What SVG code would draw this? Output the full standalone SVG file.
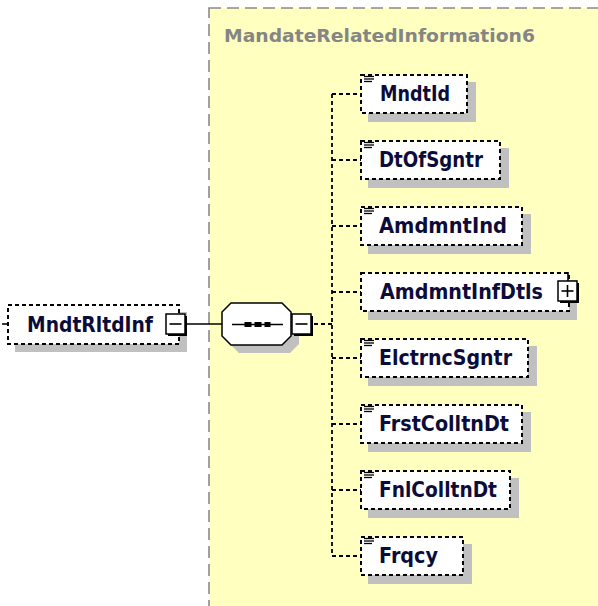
<svg xmlns="http://www.w3.org/2000/svg" width="598" height="606" viewBox="0 0 598 606">
<defs>
<style>
.bg{fill:#ffffff}
.cont{fill:#ffffc0;stroke:#8a8a8a;stroke-width:1.6;stroke-dasharray:12 6}
.title{font-family:"DejaVu Sans","Liberation Sans",sans-serif;font-weight:bold;font-size:18.5px;fill:#858585}
.box{fill:#ffffff;stroke:#000000;stroke-width:2;stroke-dasharray:4 3}
.shadow{fill:#c0c0c0}
.lbl{font-family:"DejaVu Sans","Liberation Sans",sans-serif;font-weight:bold;font-size:21px;fill:#0c0c3a}
.icon{stroke:#000000;stroke-width:1.3}
.conn{fill:none;stroke:#000000;stroke-width:1.8;stroke-dasharray:4 3}
.solid{fill:none;stroke:#000000;stroke-width:1.6}
.btn{fill:#ffffff;stroke:#000000;stroke-width:1.5}
.btnsh{fill:#000000}
</style>
</defs>
<rect class="bg" x="0" y="0" width="598" height="606"/>
<rect class="cont" x="209" y="8" width="420" height="620"/>
<text class="title" x="224" y="42" textLength="311" lengthAdjust="spacingAndGlyphs">MandateRelatedInformation6</text>

<g id="connectors">
<line class="solid" x1="2" y1="324" x2="7" y2="324"/>
<line class="solid" x1="177.5" y1="304" x2="177.5" y2="314"/>
<line class="solid" x1="187" y1="324" x2="222" y2="324"/>
<line class="conn" x1="314" y1="324" x2="332" y2="324"/>
<line class="conn" x1="332" y1="94" x2="332" y2="556"/>
<line class="conn" x1="332" y1="94" x2="361" y2="94"/>
<line class="conn" x1="332" y1="160" x2="361" y2="160"/>
<line class="conn" x1="332" y1="226" x2="361" y2="226"/>
<line class="conn" x1="332" y1="292" x2="361" y2="292"/>
<line class="conn" x1="332" y1="358" x2="361" y2="358"/>
<line class="conn" x1="332" y1="424" x2="361" y2="424"/>
<line class="conn" x1="332" y1="490" x2="361" y2="490"/>
<line class="conn" x1="332" y1="556" x2="361" y2="556"/>
</g>

<g id="MndtRltdInf">
<rect class="shadow" x="15" y="312" width="172" height="40"/>
<rect class="box" x="8" y="305" width="171" height="39"/>
<text class="lbl" x="27" y="332" textLength="126" lengthAdjust="spacingAndGlyphs">MndtRltdInf</text>
<rect class="btnsh" x="168" y="316" width="19" height="20"/>
<rect class="btn" x="166" y="314" width="19" height="20"/>
<line class="solid" x1="169.5" y1="324" x2="181.5" y2="324"/>
</g>

<g id="sequence">
<polygon class="shadow" points="239,311 290,311 299,320 299,344 290,353 239,353 230,344 230,320"/>
<polygon class="btn" points="231,303 282,303 291,312 291,336 282,345 231,345 222,336 222,312"/>
<line class="solid" x1="232" y1="324.5" x2="283" y2="324.5"/>
<rect x="244.5" y="322" width="7" height="5" fill="#000000"/>
<rect x="254.5" y="322" width="7" height="5" fill="#000000"/>
<rect x="264.5" y="322" width="6" height="5" fill="#000000"/>
<rect class="btnsh" x="294" y="316" width="19" height="20"/>
<rect class="btn" x="292" y="314" width="19" height="20"/>
<line class="solid" x1="295.5" y1="324" x2="307.5" y2="324"/>
</g>

<g id="MndtId">
<rect class="shadow" x="368" y="82" width="108" height="40"/>
<rect class="box" x="361" y="75" width="106" height="38"/>
<g class="icon"><line x1="364" y1="76.5" x2="374" y2="76.5"/><line x1="364" y1="79" x2="374" y2="79"/><line x1="364" y1="81.5" x2="372" y2="81.5"/></g>
<text class="lbl" x="380" y="101" textLength="70" lengthAdjust="spacingAndGlyphs">MndtId</text>
</g>

<g id="DtOfSgntr">
<rect class="shadow" x="368" y="148" width="141" height="40"/>
<rect class="box" x="361" y="141" width="139" height="38"/>
<g class="icon"><line x1="364" y1="142.5" x2="374" y2="142.5"/><line x1="364" y1="145" x2="374" y2="145"/><line x1="364" y1="147.5" x2="372" y2="147.5"/></g>
<text class="lbl" x="379" y="167" textLength="104" lengthAdjust="spacingAndGlyphs">DtOfSgntr</text>
</g>

<g id="AmdmntInd">
<rect class="shadow" x="368" y="214" width="163" height="40"/>
<rect class="box" x="361" y="207" width="161" height="38"/>
<g class="icon"><line x1="364" y1="208.5" x2="374" y2="208.5"/><line x1="364" y1="211" x2="374" y2="211"/><line x1="364" y1="213.5" x2="372" y2="213.5"/></g>
<text class="lbl" x="379" y="233" textLength="128" lengthAdjust="spacingAndGlyphs">AmdmntInd</text>
</g>

<g id="AmdmntInfDtls">
<rect class="shadow" x="368" y="280" width="209" height="40"/>
<rect class="box" x="361" y="273" width="208" height="38"/>
<text class="lbl" x="380" y="299" textLength="163" lengthAdjust="spacingAndGlyphs">AmdmntInfDtls</text>
<line class="solid" x1="568" y1="272" x2="568" y2="281"/>
<rect class="btnsh" x="560" y="283" width="19" height="20"/>
<rect class="btn" x="558" y="281" width="19" height="20"/>
<line class="solid" x1="561.5" y1="291" x2="573.5" y2="291"/>
<line class="solid" x1="567.5" y1="285" x2="567.5" y2="297"/>
</g>

<g id="ElctrncSgntr">
<rect class="shadow" x="368" y="346" width="169" height="40"/>
<rect class="box" x="361" y="339" width="167" height="38"/>
<g class="icon"><line x1="364" y1="340.5" x2="374" y2="340.5"/><line x1="364" y1="343" x2="374" y2="343"/><line x1="364" y1="345.5" x2="372" y2="345.5"/></g>
<text class="lbl" x="379" y="365" textLength="133" lengthAdjust="spacingAndGlyphs">ElctrncSgntr</text>
</g>

<g id="FrstColltnDt">
<rect class="shadow" x="368" y="412" width="163" height="40"/>
<rect class="box" x="361" y="405" width="161" height="38"/>
<g class="icon"><line x1="364" y1="406.5" x2="374" y2="406.5"/><line x1="364" y1="409" x2="374" y2="409"/><line x1="364" y1="411.5" x2="372" y2="411.5"/></g>
<text class="lbl" x="379" y="431" textLength="130" lengthAdjust="spacingAndGlyphs">FrstColltnDt</text>
</g>

<g id="FnlColltnDt">
<rect class="shadow" x="368" y="478" width="151" height="40"/>
<rect class="box" x="361" y="471" width="149" height="38"/>
<g class="icon"><line x1="364" y1="472.5" x2="374" y2="472.5"/><line x1="364" y1="475" x2="374" y2="475"/><line x1="364" y1="477.5" x2="372" y2="477.5"/></g>
<text class="lbl" x="379" y="497" textLength="118" lengthAdjust="spacingAndGlyphs">FnlColltnDt</text>
</g>

<g id="Frqcy">
<rect class="shadow" x="368" y="544" width="104" height="40"/>
<rect class="box" x="361" y="537" width="102" height="38"/>
<g class="icon"><line x1="364" y1="538.5" x2="374" y2="538.5"/><line x1="364" y1="541" x2="374" y2="541"/><line x1="364" y1="543.5" x2="372" y2="543.5"/></g>
<text class="lbl" x="379" y="563" textLength="59" lengthAdjust="spacingAndGlyphs">Frqcy</text>
</g>
</svg>
